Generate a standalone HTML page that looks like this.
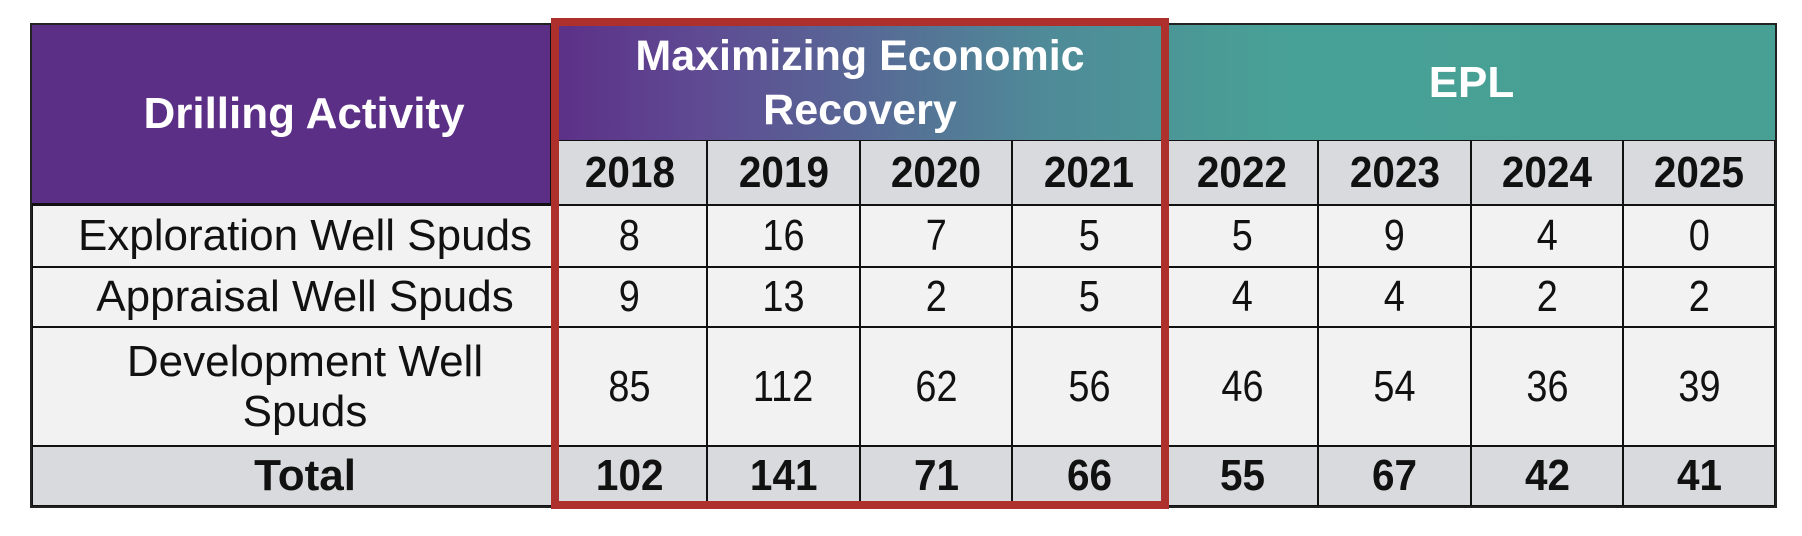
<!DOCTYPE html>
<html><head><meta charset="utf-8"><style>
body{margin:0;width:1802px;height:536px;background:#fff;position:relative;overflow:hidden;font-family:"Liberation Sans",Arial,sans-serif;}
.c{position:absolute;box-sizing:border-box;border:1.5px solid #111;display:flex;align-items:center;justify-content:center;text-align:center;color:#111;}
.c span{display:inline-block;transform:scaleX(0.86);}
.g{background:#f2f2f3;font-size:44px;}
.y{background:#d9dadd;font-size:44px;font-weight:bold;}
.y span{transform:scaleX(0.92);}
.h{color:#fff;font-weight:bold;border:none;}
.l{padding-left:26px;}
</style></head><body>
<div style="position:absolute;left:30px;top:23px;width:1747px;height:485px;background:#222;"></div>
<div class="c h l" style="left:32px;top:25px;width:520px;height:180px;background:#5c2f87;font-size:44px;border-right:2px solid #111;border-bottom:2px solid #111;">Drilling Activity</div>
<div class="c h" style="left:552px;top:25px;width:1223px;height:115px;background:linear-gradient(90deg,#5c2f87 0%,#5f4a93 12%,#4f8a98 40%,#48a196 60%,#48a094 100%);"></div>
<div class="c h" style="left:552px;top:25px;width:616px;height:115px;font-size:43px;line-height:54px;">Maximizing Economic<br>Recovery</div>
<div class="c h" style="left:1168px;top:25px;width:607px;height:115px;font-size:44px;">EPL</div>
<div id="grid"></div>
<script>
var xs=[552,707,860,1012,1166,1318,1471,1623,1775];
var rows=[[140,205,'y',['2018','2019','2020','2021','2022','2023','2024','2025']],
[205,267,'g',['8','16','7','5','5','9','4','0']],
[267,327,'g',['9','13','2','5','4','4','2','2']],
[327,446,'g',['85','112','62','56','46','54','36','39']],
[446,506,'y',['102','141','71','66','55','67','42','41']]];
var labels=['','Exploration Well Spuds','Appraisal Well Spuds','Development Well<br>Spuds','Total'];
var h='';
rows.forEach(function(r,i){
 if(i>0)h+='<div class="c l '+r[2]+'" style="left:32px;top:'+r[0]+'px;width:520px;height:'+(r[1]-r[0])+'px;line-height:50px;'+(i==4?'font-weight:bold;':'')+'">'+labels[i]+'</div>';
 for(var j=0;j<8;j++)h+='<div class="c '+r[2]+'" style="left:'+xs[j]+'px;top:'+r[0]+'px;width:'+(xs[j+1]-xs[j])+'px;height:'+(r[1]-r[0])+'px;"><span>'+r[3][j]+'</span></div>';
});
document.getElementById('grid').outerHTML=h;
</script>
<div style="position:absolute;left:551px;top:18px;width:618px;height:491px;box-sizing:border-box;border:8px solid #ad302c;"></div>
</body></html>
